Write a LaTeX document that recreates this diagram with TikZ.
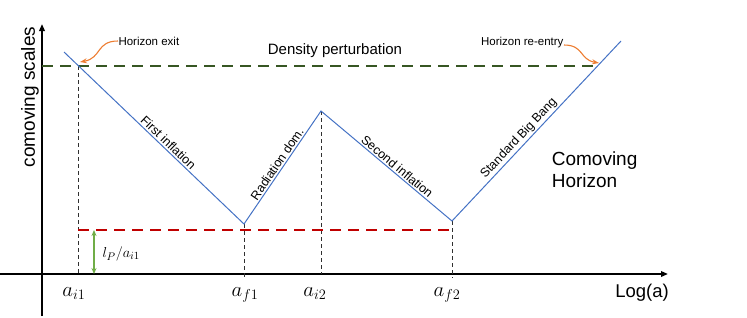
\documentclass[tikz,border=0pt]{standalone}
\usepackage{fontspec}
\setmainfont{Liberation Sans}
\usetikzlibrary{arrows.meta, positioning, calc}
\definecolor{cblue}{HTML}{4472C4}
\definecolor{corange}{HTML}{ED7D31}
\definecolor{cgreen}{HTML}{70AD47}
\definecolor{cdkgreen}{HTML}{375623}
\definecolor{cred}{HTML}{C00000}
\definecolor{cgrey}{HTML}{303030}
\tikzset{
  every picture/.style={line width=1pt},
  axis/.style={-{Triangle[length=7pt, width=5.5pt]}, line width=1.8pt},
  horizon/.style={draw=cblue, line width=1pt},
  level/.style={dash pattern=on 11pt off 7pt, line width=2.4pt},
  guide/.style={draw=cgrey, dash pattern=on 4pt off 3pt, line width=0.9pt},
  callout/.style={-{Stealth[length=7pt, width=5pt]}, draw=corange, line width=1.1pt},
  phase/.style={font=\fontsize{12.5}{14}\selectfont, inner sep=1.5pt},
  note/.style={font=\fontsize{11.5}{13}\selectfont, inner sep=0pt},
  tick/.style={font=\fontsize{20}{22}\selectfont, anchor=base, inner sep=0pt},
}

\begin{document}
\begin{tikzpicture}[x=1pt, y=-1pt]
  \useasboundingbox (0,0) rectangle (747,317);
  % axes
  \coordinate (O) at (42,274);
  \coordinate (ybot) at (42,316);
  \coordinate (ytop) at (42,24);
  \coordinate (xleft) at (0,274);
  \coordinate (xright) at (668,274);
  \draw[axis] (ybot) -- (ytop);
  \draw[axis] (xleft) -- (xright);
  \node[font=\fontsize{19}{21}\selectfont, rotate=90] (ylab) at (30,97) {comoving scales};
  \node[font=\fontsize{18.5}{20}\selectfont] (xlab) at (642,293) {Log(a)};
  % corners of the comoving horizon
  \coordinate (hstart) at (64,52);
  \coordinate (af1) at (244,224);
  \coordinate (ai2) at (321,111);
  \coordinate (af2) at (452,221);
  \coordinate (hend) at (621,41);
  \coordinate (exitpt) at (78,66);
  \coordinate (entrypt) at (598,66);
  \coordinate (lpleft) at (78,230);
  \coordinate (lptop) at (94,230);
  % guide lines down to the axis
  \draw[guide] (exitpt) -- (exitpt |- O);
  \draw[guide] (af1) -- ($(af1 |- O)+(0,4)$);
  \draw[guide] (ai2) -- (ai2 |- O);
  \draw[guide] (af2) -- ($(af2 |- O)+(0,4)$);
  % the two levels
  \draw[level, draw=cdkgreen] (O |- exitpt) -- ($(entrypt)+(2,0)$);
  \draw[level, draw=cred] (lpleft) -- (af2 |- lpleft);
  \node[font=\fontsize{15}{17}\selectfont] (density) at (335,51) {Density perturbation};
  % the horizon itself
  \draw[horizon] (hstart)
    -- node[phase, sloped, above, pos=0.555] (first) {First inflation} (af1)
    -- node[phase, sloped, above, pos=0.5] (rad) {Radiation dom.} (ai2)
    -- node[phase, sloped, above, pos=0.55] (second) {Second inflation} (af2)
    -- node[phase, sloped, above, pos=0.43] (sbb) {Standard Big Bang} (hend);
  \node[font=\fontsize{19}{22}\selectfont, align=left, anchor=west] (comov) at (548,170) {Comoving\\Horizon};
  % exit and re-entry
  \node[note, anchor=west] (exit) at (118,41) {Horizon exit};
  \node[note, anchor=east] (entry) at (564,43) {Horizon re-entry};
  \draw[callout] (exit.west) to[out=180, in=10, looseness=1.3] ($(exitpt)+(2,-4)$);
  \draw[callout] ($(entry.east)+(0,2)$) to[out=0, in=170, looseness=1.3] ($(entrypt)+(1,-3)$);
  % planck length
  \draw[{Stealth[length=6pt, width=5pt]}-{Stealth[length=6pt, width=5pt]}, draw=cgreen, line width=1.5pt] (lptop) -- (lptop |- O);
  \node[font=\fontsize{15}{17}\selectfont, anchor=west, inner sep=0pt] (lp) at (102,254) {$l_P/a_{i1}$};
  % scale factor ticks
  \node[tick] (tai1) at (74,296) {$a_{i1}$};
  \node[tick] (taf1) at (245,296) {$a_{f1}$};
  \node[tick] (tai2) at (315,296) {$a_{i2}$};
  \node[tick] (taf2) at (447,296) {$a_{f2}$};
\end{tikzpicture}
\end{document}
